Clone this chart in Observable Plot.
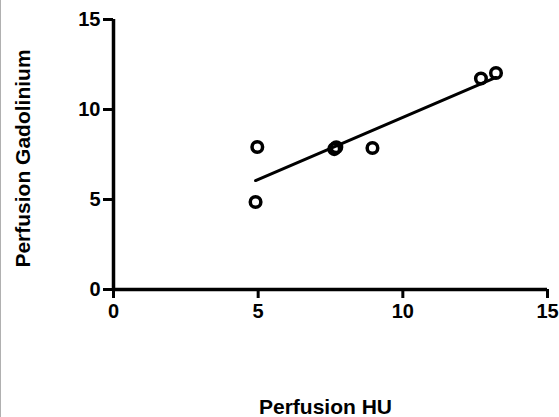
<!DOCTYPE html>
<html>
<head>
<meta charset="utf-8">
<script src="https://cdn.jsdelivr.net/npm/d3@7"></script>
<script src="https://cdn.jsdelivr.net/npm/@observablehq/plot@0.6"></script>
<style>
  html, body { margin: 0; padding: 0; background: #fff; }
  #wrap { position: relative; width: 559px; height: 417px; overflow: hidden; }
  #edge { position: absolute; left: 0; top: 0; width: 1px; height: 417px; background: #b0b0b0; }
  svg { display: block; }
</style>
</head>
<body>
<div id="wrap"><div id="edge"></div></div>
<script>
// Data
const perfusionHU  = [4.91, 4.97, 7.63, 7.70, 8.95, 12.70, 13.22];
const perfusionGd  = [4.86, 7.92, 7.80, 7.90, 7.86, 11.72, 12.03];
const xTicks = [0, 5, 10, 15];
const yTicks = [0, 5, 10, 15];
const xLabel = "Perfusion HU";
const yLabel = "Perfusion Gadolinium";

const data = perfusionHU.map((x, i) => ({x, y: perfusionGd[i]}));

const font = "'Liberation Sans', Arial, Helvetica, sans-serif";

const chart = Plot.plot({
  width: 559,
  height: 417,
  marginLeft: 113,
  marginRight: 12,
  marginTop: 19,
  marginBottom: 128,
  style: {fontFamily: font, fontWeight: "bold", color: "#000", background: "transparent"},
  x: {domain: [0, 15]},
  y: {domain: [0, 15]},
  marks: [
    Plot.axisX({ticks: xTicks, tickSize: 9, tickPadding: 5, strokeWidth: 3, fontSize: 20, fontWeight: "bold", label: null, tickFormat: d => String(d)}),
    Plot.axisY({ticks: yTicks, tickSize: 10, tickPadding: 3, strokeWidth: 3, fontSize: 20, fontWeight: "bold", label: null, tickFormat: d => String(d)}),
    Plot.ruleY([0], {stroke: "#000", strokeWidth: 3.5}),
    Plot.ruleX([0], {stroke: "#000", strokeWidth: 3.5}),
    Plot.linearRegressionY(data, {x: "x", y: "y", stroke: "#000", strokeWidth: 3, ci: 0}),
    Plot.dot(data, {x: "x", y: "y", r: 5.3, stroke: "#000", strokeWidth: 3.5, fill: "none"}),
    Plot.text([xLabel], {text: d => d, frameAnchor: "bottom", textAnchor: "middle", lineAnchor: "bottom", dx: -5, dy: 124, fontSize: 21, fontWeight: "bold", fill: "#000"}),
    Plot.text([yLabel], {text: d => d, frameAnchor: "left", textAnchor: "middle", lineAnchor: "middle", rotate: -90, dx: -90, dy: 4, fontSize: 21, fontWeight: "bold", fill: "#000"})
  ]
});

document.getElementById("wrap").appendChild(chart);
</script>
</body>
</html>
